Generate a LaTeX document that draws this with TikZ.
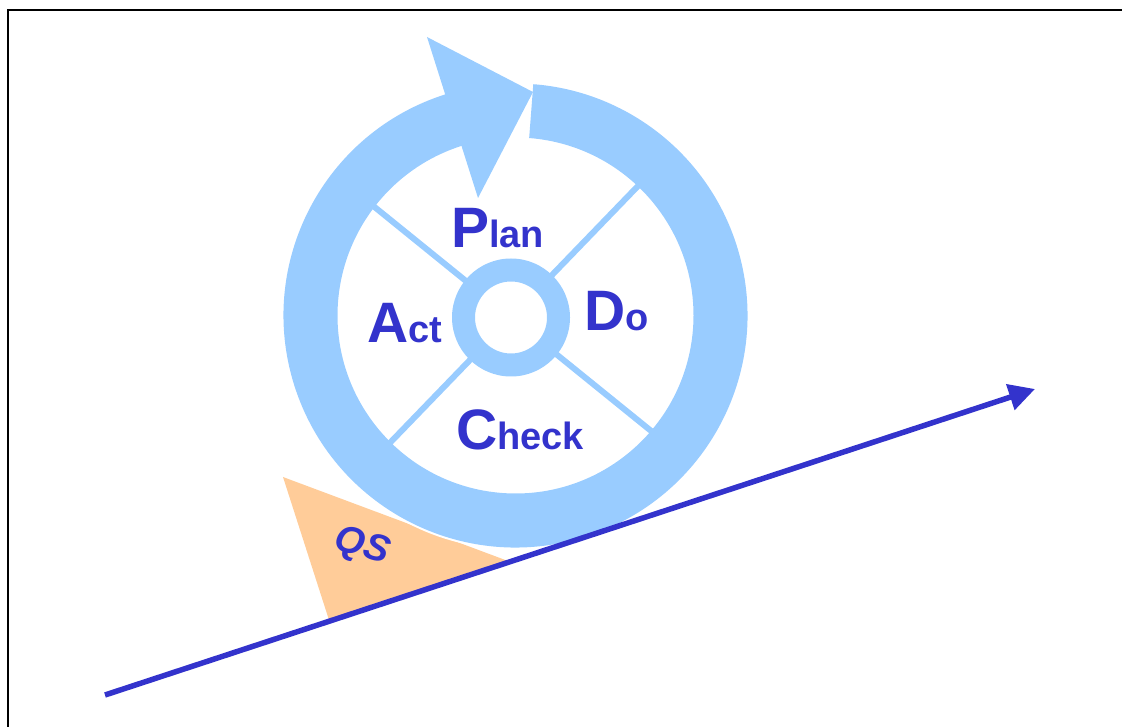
\documentclass[tikz,border=0pt]{standalone}
\usepackage{fontspec}
\setmainfont{Liberation Sans}
\usepackage{tkz-euclide}
\usetikzlibrary{arrows.meta,calc}
\definecolor{RingClr}{RGB}{153,204,255}
\definecolor{TextClr}{RGB}{51,51,204}
\definecolor{WedgeClr}{RGB}{255,204,153}
\newcommand{\CapL}[1]{{\fontsize{57}{57}\selectfont #1}}
\newcommand{\LowL}[1]{{\fontsize{38}{38}\selectfont #1}}

\begin{document}
\begin{tikzpicture}[x=1pt,y=1pt,
  lbl/.style={text=TextClr,font=\bfseries,inner sep=0pt,anchor=base west},
  spoke/.style={RingClr,line width=6pt}]
\useasboundingbox (0,0) rectangle (1122,726);
\draw[line width=2.2pt] (8,-20) rectangle (1140,716);

\tkzDefPoints{515.5/410.5/O,511/408.5/Q,105/31/S,1035/337/E}
\tkzDefPoints{283/249/W1,329/106/W2,508/165/W3}
\tkzDefPoints{427/689/H1,533/634/H2,478/528/H3}

\tkzFillPolygon[fill=WedgeClr](W1,W2,W3)
\draw[white,line width=4pt] (O) circle[radius=232];

\foreach \a in {141,46,226,-39}
  \draw[spoke] ($(Q)+(\a:50)$) -- ($(Q)+(\a:195)$);

\fill[RingClr] (O) ++(107.5:232) arc[start angle=107.5,end angle=445.6,radius=232]
  -- ($(O)+(445.6:178)$) arc[start angle=445.6,end angle=107.5,radius=178] -- cycle;
\fill[RingClr] (H1) -- (H2) -- (H3) -- cycle;
\fill[RingClr,even odd rule] (Q) circle[radius=59] (Q) circle[radius=36];

\node[lbl] (plan) at (451,478) {\CapL{P}\LowL{lan}};
\node[lbl] (act) at (367,383) {\CapL{A}\LowL{ct}};
\node[lbl] (do) at (584,395) {\CapL{D}\LowL{o}};
\node[lbl] (check) at (456,276) {\CapL{C}\LowL{heck}};
\node[text=TextClr,font=\bfseries\itshape\fontsize{38}{38}\selectfont,rotate=-17,inner sep=0pt] (qs) at (362,179) {QS};

\draw[TextClr,line width=5.5pt,-{Triangle[length=26pt,width=26pt]}] (S) -- (E);
\end{tikzpicture}
\end{document}
